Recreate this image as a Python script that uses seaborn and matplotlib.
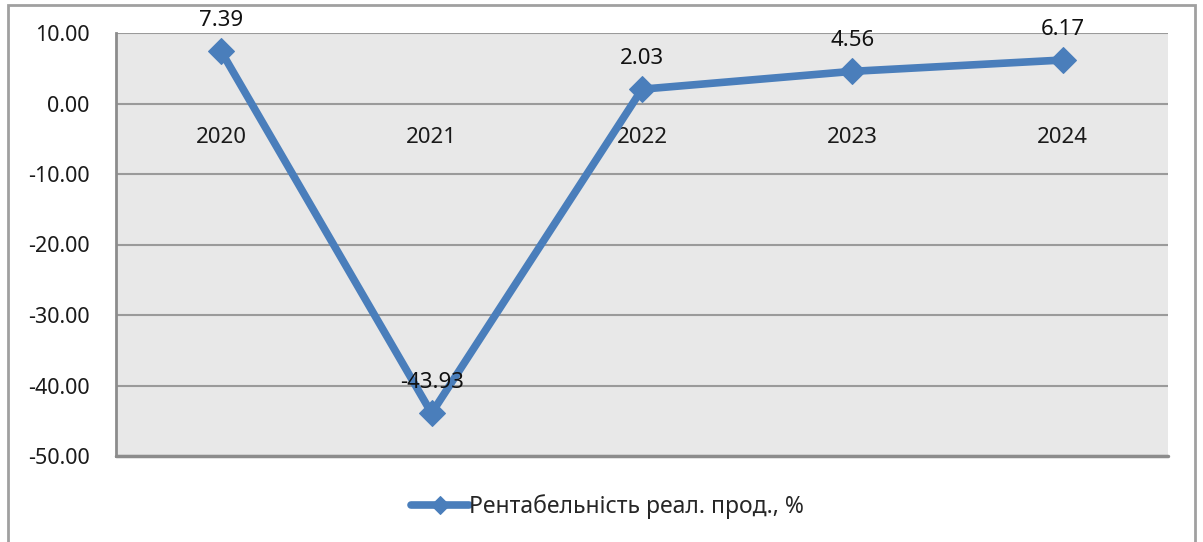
import matplotlib
matplotlib.use("Agg")
import matplotlib.pyplot as plt
import seaborn as sns
import pandas as pd
from matplotlib.patches import Rectangle

years = ["2020", "2021", "2022", "2023", "2024"]
values = [7.39, -43.93, 2.03, 4.56, 6.17]
series_name = "Рентабельність реал. прод., %"
y_ticks = [10, 0, -10, -20, -30, -40, -50]

sns.set_theme(style="white")
plt.rcParams['font.family'] = ['Noto Sans', 'DejaVu Sans']

df = pd.DataFrame({"year": years, "value": values})

fig = plt.figure(figsize=(12.03, 5.42), dpi=100)
ax = fig.add_axes([116/1203, 1 - 456/542, (1168 - 116)/1203, (456 - 33)/542])
ax.set_facecolor("#e8e8e8")

color = "#4a7ebb"
sns.lineplot(data=df, x="year", y="value", ax=ax, color=color, linewidth=5.5,
             marker="D", markersize=13, markeredgecolor=color,
             label=series_name, sort=False)

ax.set_xlim(-0.5, 4.5)
ax.set_ylim(-50, 10)
ax.set_yticks(y_ticks)
ax.set_yticklabels([f"{v:.2f}" for v in y_ticks], fontsize=15.5, color="#1a1a1a")
ax.yaxis.grid(True, color="#9a9a9a", linewidth=1.5)
ax.set_axisbelow(True)
ax.set_xlabel("")
ax.set_ylabel("")

# category labels at the zero line
ax.spines["bottom"].set_position(("data", 0))
ax.spines["bottom"].set_visible(False)
ax.tick_params(axis="x", length=0, pad=17, labelsize=16, labelcolor="#1a1a1a")
ax.tick_params(axis="y", length=0, pad=19)
ax.spines["top"].set_visible(False)
ax.spines["right"].set_visible(False)
ax.spines["left"].set_color("#8c8c8c")
ax.spines["left"].set_linewidth(2)

# bottom frame line of plot area
ax.axhline(-50, color="#8c8c8c", linewidth=2.5, clip_on=False, zorder=1)

for i, v in enumerate(values):
    ax.annotate(f"{v:.2f}", (i, v), xytext=(0, 22), textcoords="offset points",
                ha="center", va="center", fontsize=16, color="#111111")

leg = ax.legend(loc="center", bbox_to_anchor=(0.505, 1 - 507/542),
                bbox_transform=fig.transFigure, frameon=False, fontsize=16.5,
                handlelength=2.5, handletextpad=0.0)
for h in leg.legend_handles:
    h.set_markersize(9)

fig.patches.append(Rectangle((8/1203, -0.05), (1195 - 8)/1203, 1.05 - 5/542,
                             transform=fig.transFigure, fill=False,
                             edgecolor="#a0a0a0", linewidth=2))

fig.savefig("out.png", dpi=100)
